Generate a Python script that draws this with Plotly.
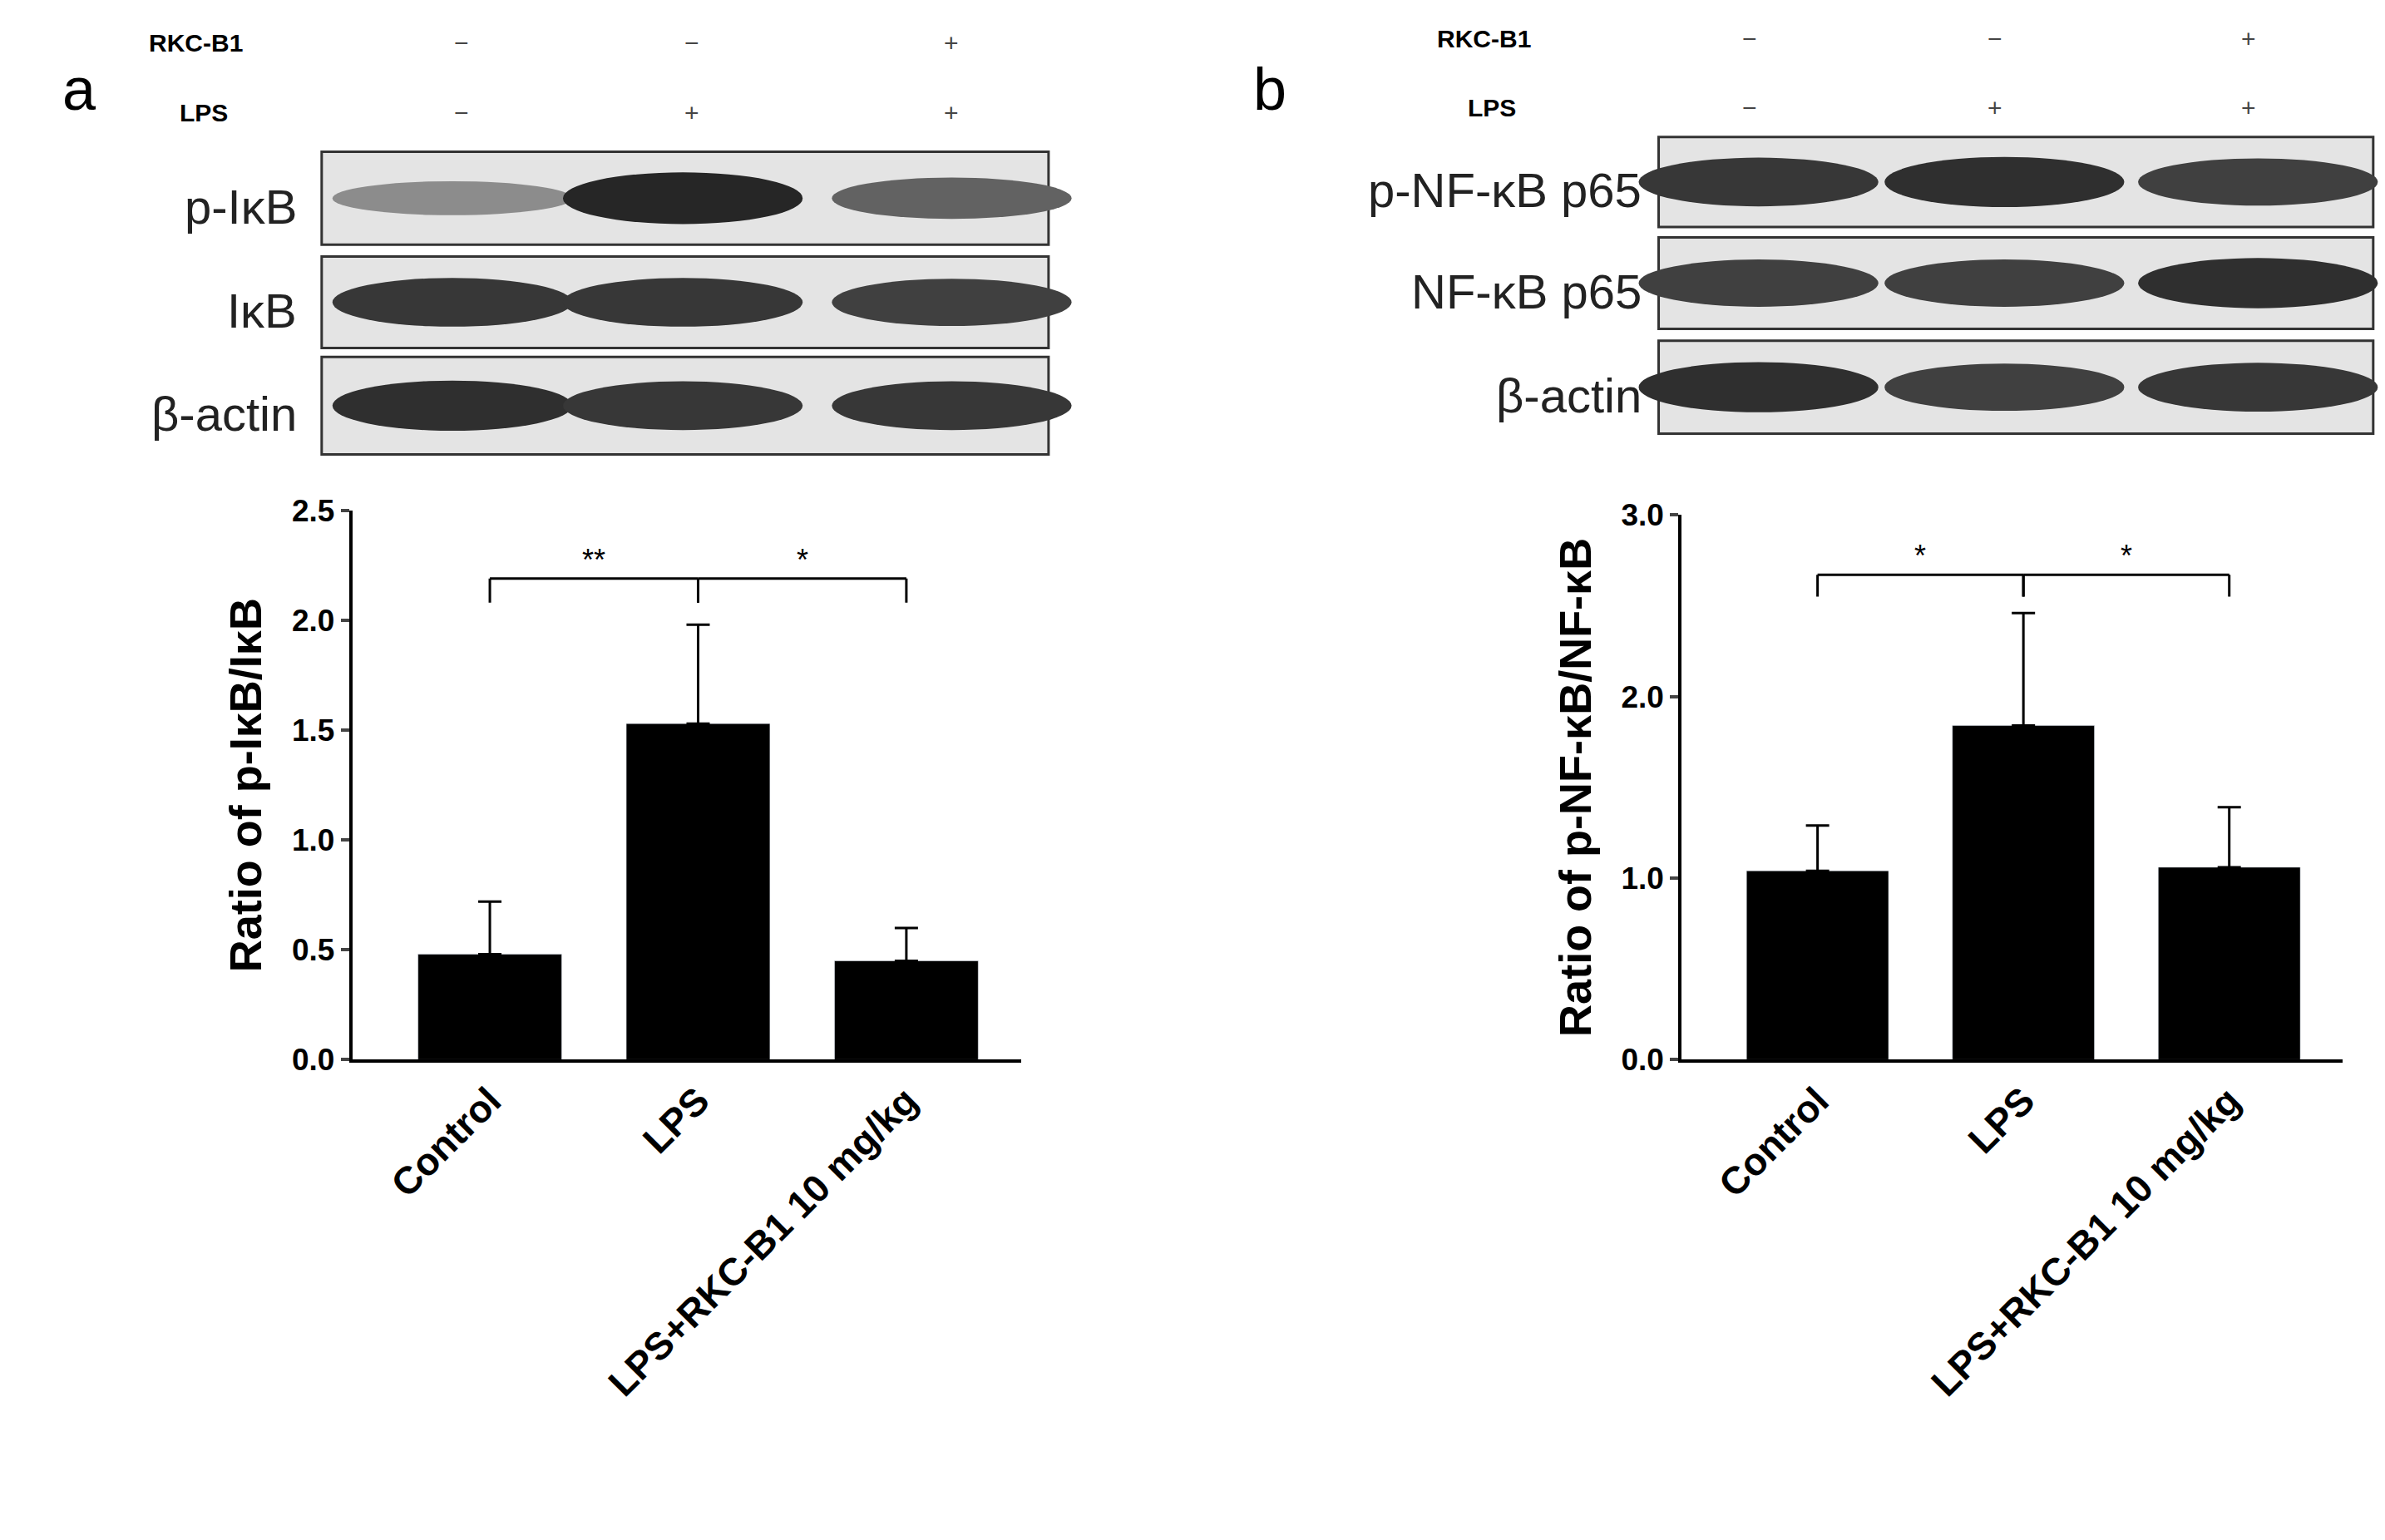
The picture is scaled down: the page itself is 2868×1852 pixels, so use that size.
import plotly.graph_objects as go

W, H = 1552, 1020  # reference design grid
cats = ["Control", "LPS", "LPS+RKC-B1 10 mg/kg"]
a_vals = [0.48, 1.53, 0.45]
a_err = [0.24, 0.45, 0.15]
b_vals = [1.04, 1.84, 1.06]
b_err = [0.25, 0.62, 0.33]
a_sig = ["**", "*"]
b_sig = ["*", "*"]
rkc = ["−", "−", "+"]
lps = ["−", "+", "+"]
a_rows = ["p-IκB", "IκB", "β-actin"]
b_rows = ["p-NF-κB p65", "NF-κB p65", "β-actin"]
a_band = [[0.35, 0.95, 0.6], [0.85, 0.85, 0.8], [0.9, 0.85, 0.85]]
b_band = [[0.85, 0.9, 0.8], [0.8, 0.8, 0.9], [0.9, 0.8, 0.85]]

SH = 10   # vertical correction for shapes
AN = 24   # vertical correction for annotations
def px(x): return x / W
def py(y): return 1 - y / H

FONT = "Liberation Sans"
fig = go.Figure()
for xa, ya, v, e in [("x", "y", a_vals, a_err), ("x2", "y2", b_vals, b_err)]:
    fig.add_trace(go.Bar(x=cats, y=v, marker_color="black", width=0.69,
                         error_y=dict(type="data", array=e, symmetric=False, arrayminus=[0]*3,
                                      color="black", thickness=3, width=14),
                         xaxis=xa, yaxis=ya, showlegend=False))

ax = dict(showline=True, linewidth=4, linecolor="black", ticks="outside", ticklen=10,
          tickwidth=4, tickfont=dict(family=FONT, size=37, color="black"), showgrid=False,
          zeroline=False, tickprefix="<b>", ticksuffix="</b>")
xax = dict(ax, tickangle=-45, tickfont=dict(family=FONT, size=46, color="black"), ticks="")
tf = dict(family=FONT, size=54, color="black")
fig.update_layout(
    width=2868, height=1852, margin=dict(l=0, r=0, t=0, b=0),
    plot_bgcolor="white", paper_bgcolor="white",
    xaxis=dict(xax, domain=[px(225), px(660)], anchor="y", range=[-0.66, 2.55]),
    yaxis=dict(ax, domain=[py(702), py(330)], anchor="x", range=[0, 2.5], dtick=0.5,
               tickformat=".1f", title=dict(text="<b>Ratio of p-IκB/IκB</b>", font=tf, standoff=20)),
    xaxis2=dict(xax, domain=[px(1090), px(1520)], anchor="y2", range=[-0.66, 2.55]),
    yaxis2=dict(ax, domain=[py(702), py(333)], anchor="x2", range=[0, 3.0], dtick=1.0,
                tickformat=".1f", title=dict(text="<b>Ratio of p-NF-κB/NF-κB</b>", font=tf, standoff=20)),
)

shapes, ann = [], []
def bracket(xr, yr, y, yend, sigs):
    for i, (c0, c1) in enumerate([(0, 1), (1, 2)]):
        x0, x1 = cats[c0], cats[c1]
        for xx in (x0, x1):
            shapes.append(dict(type="line", xref=xr, yref=yr, x0=xx, x1=xx, y0=yend, y1=y,
                               line=dict(color="black", width=3)))
        shapes.append(dict(type="line", xref=xr, yref=yr, x0=x0, x1=x1, y0=y, y1=y,
                           line=dict(color="black", width=3)))
        ann.append(dict(xref=xr, yref=yr, x=c0 + 0.5, y=y, text=sigs[i], showarrow=False,
                        yanchor="bottom", font=dict(family=FONT, size=36, color="black")))
bracket("x", "y", 2.19, 2.08, a_sig)
bracket("x2", "y2", 2.67, 2.55, b_sig)

def blot(x0, x1, rows_y, lanes, labels, bands, lab_x, plus_y, head_x):
    for r, (y0, y1) in enumerate(rows_y):
        y0s, y1s = y0 - SH, y1 - SH
        shapes.append(dict(type="rect", xref="paper", yref="paper", x0=px(x0), x1=px(x1),
                           y0=py(y1s), y1=py(y0s), fillcolor="#e4e4e4", line=dict(color="#333", width=3)))
        ym = (y0s + y1s) / 2
        for l, lx in enumerate(lanes):
            d = bands[r][l]
            g = int(200 - 170 * d)
            hh = 8 + 10 * d
            shapes.append(dict(type="circle", xref="paper", yref="paper",
                               x0=px(lx - 78), x1=px(lx + 78), y0=py(ym + hh), y1=py(ym - hh),
                               fillcolor=f"rgb({g},{g},{g})", line=dict(width=0)))
        ann.append(dict(xref="paper", yref="paper", x=px(lab_x), y=py((y0 + y1) / 2 - AN), text=labels[r],
                        showarrow=False, xanchor="right", font=dict(family=FONT, size=58, color="#222")))
    for l, lx in enumerate(lanes):
        ann.append(dict(xref="paper", yref="paper", x=px(lx), y=py(plus_y[0] - AN), text=rkc[l],
                        showarrow=False, font=dict(family=FONT, size=30, color="#444")))
        ann.append(dict(xref="paper", yref="paper", x=px(lx), y=py(plus_y[1] - AN), text=lps[l],
                        showarrow=False, font=dict(family=FONT, size=30, color="#444")))
    ann.append(dict(xref="paper", yref="paper", x=px(head_x), y=py(plus_y[0] - AN), text="<b>RKC-B1</b>",
                    showarrow=False, xanchor="right", font=dict(family=FONT, size=30, color="black")))
    ann.append(dict(xref="paper", yref="paper", x=px(head_x - 10), y=py(plus_y[1] - AN), text="<b>LPS</b>",
                    showarrow=False, xanchor="right", font=dict(family=FONT, size=30, color="black")))

blot(205, 678, [(97, 160), (168, 230), (236, 302)], [290, 440, 615], a_rows, a_band, 190, (27, 74), 155)
blot(1075, 1540, [(87, 148), (155, 217), (225, 288)], [1140, 1300, 1465], b_rows, b_band, 1065, (24, 71), 993)

ann.append(dict(xref="paper", yref="paper", x=px(35), y=py(45 - AN), text="a", showarrow=False,
                font=dict(family=FONT, size=72, color="black")))
ann.append(dict(xref="paper", yref="paper", x=px(822), y=py(45 - AN), text="b", showarrow=False,
                font=dict(family=FONT, size=72, color="black")))

fig.update_layout(shapes=shapes, annotations=ann)
fig.write_html("out.html")
